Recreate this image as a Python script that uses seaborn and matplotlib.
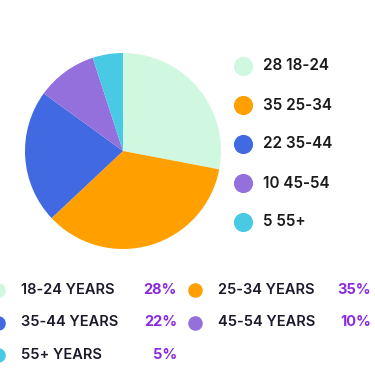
import matplotlib
matplotlib.use('Agg')
import matplotlib.pyplot as plt
import seaborn as sns

# chart data
ages = ['18-24', '25-34', '35-44', '45-54', '55+']
counts = [28, 35, 22, 10, 5]
shares = [28, 35, 22, 10, 5]
colors = ['#d0f8e0', '#ffa000', '#4169e1', '#9370db', '#48cae4']

sns.set_style('white')
plt.rcParams['font.family'] = ['Inter', 'DejaVu Sans']

W, H = 375, 372
fig = plt.figure(figsize=(W / 100, H / 100), dpi=100)

# pie
pie_ax = fig.add_axes([25 / W, (H - 249) / H, 196 / W, 196 / H])
pie_ax.pie(counts, colors=sns.color_palette(colors), startangle=90,
           counterclock=False, wedgeprops=dict(linewidth=0))
pie_ax.set_xlim(-1, 1)
pie_ax.set_ylim(-1, 1)
pie_ax.set_aspect('equal')

# overlay in pixel coords for the legends
ov = fig.add_axes([0, 0, 1, 1], zorder=3)
ov.set_xlim(0, W)
ov.set_ylim(H, 0)
ov.axis('off')

# right legend
for i, (a, c, col) in enumerate(zip(ages, counts, colors)):
    y = 66 + i * 39
    ov.scatter(243, y, s=190, color=col, linewidths=0)
    ov.text(263, y, f'{c} {a}', fontsize=11, fontweight='semibold',
            color='#1a1a1a', va='center', ha='left')

# bottom legend
for i, (a, p, col) in enumerate(zip(ages, shares, colors)):
    row, colm = divmod(i, 2)
    y = 290 + row * 32.5
    x0 = -2 if colm == 0 else 195
    ov.scatter(x0, y, s=110, color=col, linewidths=0, clip_on=False)
    ov.text(x0 + 23, y, f'{a} YEARS', fontsize=10.5, fontweight='semibold',
            color='#1a1a2a', va='center', ha='left')
    xr = 177 if colm == 0 else 371
    ov.text(xr, y, f'{p}%', fontsize=10.5, fontweight='bold',
            color='#8a2be2', va='center', ha='right')

fig.savefig('out.png', dpi=100)
